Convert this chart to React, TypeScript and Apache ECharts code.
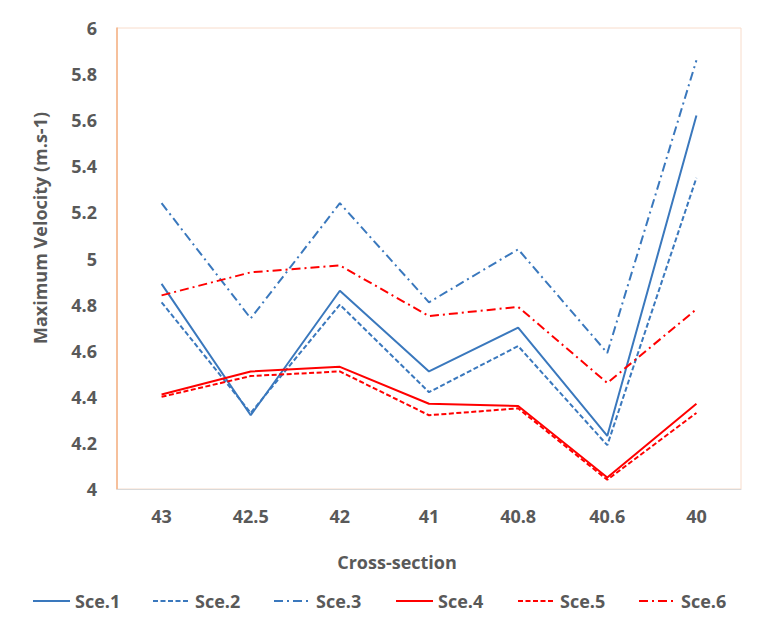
import React, { useEffect, useRef } from "react";
import * as echarts from "echarts";

const categories = ["43", "42.5", "42", "41", "40.8", "40.6", "40"];
const sce1 = [4.89, 4.32, 4.86, 4.51, 4.70, 4.23, 5.62];
const sce2 = [4.81, 4.33, 4.80, 4.42, 4.62, 4.19, 5.35];
const sce3 = [5.24, 4.74, 5.24, 4.81, 5.04, 4.59, 5.86];
const sce4 = [4.41, 4.51, 4.53, 4.37, 4.36, 4.05, 4.37];
const sce5 = [4.40, 4.49, 4.51, 4.32, 4.35, 4.04, 4.33];
const sce6 = [4.84, 4.94, 4.97, 4.75, 4.79, 4.46, 4.78];
const seriesNames = ["Sce.1", "Sce.2", "Sce.3", "Sce.4", "Sce.5", "Sce.6"];

const BLUE = "#3A78BD";
const RED = "#FF0000";
const FONT = "Open Sans";
const TXT = "#595959";
const FS = 18;
const FW = 700;

export default function App() {
  const ref = useRef<HTMLDivElement>(null);
  useEffect(() => {
    document.body.style.margin = "0";
    if (!ref.current) return;
    const chart = echarts.init(ref.current, undefined, { renderer: "svg" });
    const dashed = [5, 2.5];
    const dashDot = [9, 4, 2, 4];
    const mk = (name: string, data: number[], color: string, type: any) => ({
      name,
      type: "line",
      data,
      symbol: "none",
      lineStyle: { color, width: 2, type },
      itemStyle: { color },
      z: 3,
    });
    const legendLefts = [32, 152, 273, 395, 517, 638];
    chart.setOption({
      animation: false,
      backgroundColor: "#ffffff",
      textStyle: { fontFamily: FONT },
      grid: {
        left: 117,
        top: 28,
        right: 23,
        bottom: 136,
        show: true,
        borderColor: "#F8DCCB",
        borderWidth: 1,
      },
      xAxis: {
        type: "category",
        data: categories,
        boundaryGap: true,
        axisLine: { show: true, lineStyle: { color: "#D9D9D9", width: 1 } },
        axisTick: { show: false },
        axisLabel: {
          color: TXT,
          fontSize: FS,
          fontWeight: FW,
          fontFamily: FONT,
          margin: 18,
        },
        splitLine: { show: false },
      },
      yAxis: {
        type: "value",
        min: 4,
        max: 6,
        interval: 0.2,
        axisLine: { show: true, lineStyle: { color: "#F4B183", width: 1.5 } },
        axisTick: { show: false },
        splitLine: { show: false },
        axisLabel: {
          color: TXT,
          fontSize: FS,
          fontWeight: FW,
          fontFamily: FONT,
          margin: 20,
          formatter: (v: number) => String(Math.round(v * 10) / 10),
        },
      },
      legend: seriesNames.map((n, i) => ({
        top: 592,
        left: legendLefts[i],
        padding: 0,
        itemWidth: 37,
        itemHeight: 14,
        itemGap: 0,
        data: [n],
        itemStyle: { opacity: 0 },
        textStyle: {
          color: TXT,
          fontSize: FS,
          fontWeight: FW,
          fontFamily: FONT,
        },
      })),
      graphic: [
        {
          type: "text",
          x: 397,
          y: 562,
          style: {
            text: "Cross-section",
            fill: TXT,
            font: `${FW} ${FS}px "${FONT}"`,
            align: "center",
            verticalAlign: "middle",
          },
        },
        {
          type: "text",
          x: 40,
          y: 228,
          rotation: Math.PI / 2,
          style: {
            text: "Maximum Velocity (m.s-1)",
            fill: TXT,
            font: `${FW} ${FS}px "${FONT}"`,
            align: "center",
            verticalAlign: "middle",
          },
        },
      ],
      series: [
        mk("Sce.1", sce1, BLUE, "solid"),
        mk("Sce.2", sce2, BLUE, dashed),
        mk("Sce.3", sce3, BLUE, dashDot),
        mk("Sce.4", sce4, RED, "solid"),
        mk("Sce.5", sce5, RED, dashed),
        mk("Sce.6", sce6, RED, dashDot),
      ],
    });
    return () => chart.dispose();
  }, []);
  return <div ref={ref} style={{ width: 764, height: 625 }} />;
}
